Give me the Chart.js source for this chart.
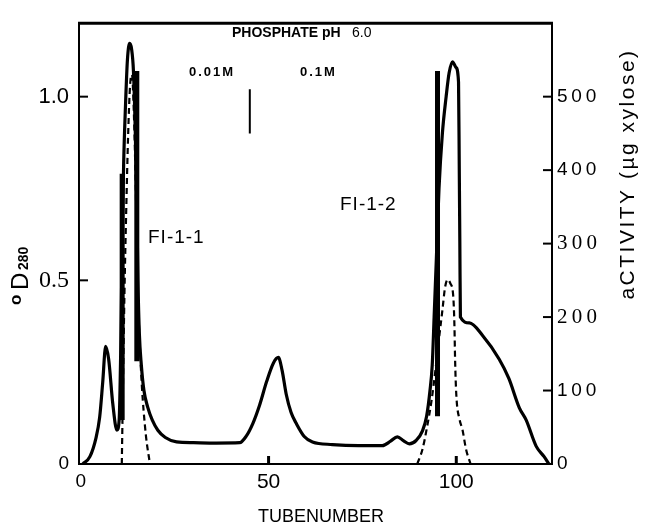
<!DOCTYPE html>
<html>
<head>
<meta charset="utf-8">
<script src="https://cdn.jsdelivr.net/npm/chart.js@4/dist/chart.umd.min.js"></script>
<style>
html,body{margin:0;padding:0;background:#fff;}
#wrap{width:645px;height:526px;}
</style>
</head>
<body>
<div id="wrap"><canvas id="c" width="645" height="526"></canvas></div>
<script>
// ---- data ----
const odTubes = [0.5,2.4,4.0,5.0,5.8,6.6,7.4,8.5,9.6,10.2,10.6,11.0,11.4,11.9,12.4,13.0,13.5,14.0,14.5,14.9,15.2,15.6,16.1,16.8,17.8,19.0,20.5,22.5,25.5,30,36,42.3,44,45.8,47.6,49.5,51.3,52.6,53.6,54.7,56,57.4,59.5,61.7,67,74,80.3,82.5,84.3,86,87.5,89.3,91,92.1,93,93.6,94.1,94.7,95.4,96.3,97.3,98.1,99.0,99.9,100.6,100.8,100.95,101.1,103.5,107,111.4,114,116.8,118.6,121.3,123.4,124.7];
const odValues = [0,0.02,0.07,0.127,0.22,0.32,0.285,0.164,0.092,0.12,0.3,0.6,0.82,0.98,1.1,1.145,1.13,1.07,0.9,0.7,0.5,0.35,0.27,0.2,0.155,0.12,0.092,0.072,0.06,0.058,0.057,0.058,0.075,0.11,0.16,0.225,0.275,0.29,0.255,0.19,0.14,0.11,0.075,0.06,0.053,0.05,0.05,0.062,0.074,0.063,0.055,0.064,0.09,0.13,0.2,0.27,0.4,0.56,0.75,0.9,1.0,1.065,1.095,1.08,1.04,0.8,0.6,0.4,0.384,0.35,0.286,0.233,0.153,0.12,0.048,0.02,0];

const actPeak1Tubes = [10.9,11.2,11.6,12.1,12.6,13.1,13.6,14.1,14.6,15.1,15.6,16.2,17.3,18.4];
const actPeak1Values = [0,100,230,350,450,515,530,480,380,240,175,110,40,0];
const actPeak2Tubes = [89.6,91.0,92.2,93.4,94.5,95.5,96.3,97.0,97.7,98.4,99.2,99.5,99.7,100.0,100.9,101.6,102.6,103.8];
const actPeak2Values = [0,20,50,86,130,175,209,240,251,246,228,190,139,95,60,48,20,0];

// thick vertical bars drawn on the original record (tube, OD low, OD high)
const barTubes = [11.0, 14.9, 95.0];
const barLow = [0.12, 0.28, 0.13];
const barHigh = [0.79, 1.07, 1.07];
// buffer change marker (0.01M -> 0.1M)
const bufferChangeTube = 45;
const bufferMarkRange = [0.9, 1.02];

const xTicks = [0, 50, 100];
const odTicks = [0, 0.5, 1.0];
const actTicks = [0, 100, 200, 300, 400, 500];

// ---- build datasets ----
const pts = (xs, ys) => xs.map((x, i) => ({x: x, y: ys[i]}));
const datasets = [];
datasets.push({data: pts(odTubes, odValues), yAxisID: 'y', borderColor: '#000', borderWidth: 3.2,
  pointRadius: 0, fill: false, cubicInterpolationMode: 'monotone'});
datasets.push({data: pts(actPeak1Tubes, actPeak1Values), yAxisID: 'y2', borderColor: '#000', borderWidth: 2.2,
  borderDash: [6, 4], pointRadius: 0, fill: false, cubicInterpolationMode: 'monotone'});
datasets.push({data: pts(actPeak2Tubes, actPeak2Values), yAxisID: 'y2', borderColor: '#000', borderWidth: 2.2,
  borderDash: [6, 4], pointRadius: 0, fill: false, cubicInterpolationMode: 'monotone'});
barTubes.forEach((t, i) => {
  datasets.push({data: [{x: t, y: barLow[i]}, {x: t, y: barHigh[i]}], yAxisID: 'y', borderColor: '#000',
    borderWidth: 5, pointRadius: 0, fill: false, borderCapStyle: 'butt'});
});
datasets.push({data: [{x: bufferChangeTube, y: bufferMarkRange[0]}, {x: bufferChangeTube, y: bufferMarkRange[1]}],
  yAxisID: 'y', borderColor: '#000', borderWidth: 2, pointRadius: 0, fill: false});

const SANS = 'Liberation Sans';
const SERIF = 'Liberation Serif';

const decor = {
  id: 'decor',
  afterDraw(chart) {
    const ctx = chart.ctx;
    const a = chart.chartArea;
    const sx = chart.scales.x, sy = chart.scales.y, sy2 = chart.scales.y2;
    ctx.save();
    ctx.strokeStyle = '#000';
    ctx.fillStyle = '#000';
    // top frame line
    ctx.lineWidth = 3;
    ctx.beginPath(); ctx.moveTo(a.left - 1, a.top); ctx.lineTo(a.right + 1, a.top); ctx.stroke();
    // inward tick marks
    ctx.lineWidth = 2;
    odTicks.forEach(v => { if (v === 0) return; const y = sy.getPixelForValue(v);
      ctx.beginPath(); ctx.moveTo(a.left, y); ctx.lineTo(a.left + 9, y); ctx.stroke(); });
    actTicks.forEach(v => { if (v === 0) return; const y = sy2.getPixelForValue(v);
      ctx.beginPath(); ctx.moveTo(a.right, y); ctx.lineTo(a.right - 9, y); ctx.stroke(); });
    ctx.lineWidth = 3;
    xTicks.forEach(v => { if (v === 0) return; const x = sx.getPixelForValue(v);
      ctx.beginPath(); ctx.moveTo(x, a.bottom); ctx.lineTo(x, a.bottom - 8); ctx.stroke(); });

    // annotations
    ctx.textBaseline = 'middle';
    ctx.textAlign = 'left';
    ctx.font = 'bold 14px ' + SANS;
    ctx.fillText('PHOSPHATE pH', 232, 33);
    ctx.font = '14px ' + SANS;
    ctx.fillText('6.0', 352, 33);
    ctx.font = 'bold 13px ' + SANS;
    ctx.letterSpacing = '2px';
    ctx.fillText('0.01M', 189, 72);
    ctx.fillText('0.1M', 300, 72);
    ctx.font = '19px ' + SANS;
    ctx.letterSpacing = '1px';
    ctx.fillText('FI-1-1', 148, 238);
    ctx.fillText('FI-1-2', 340, 205);
    ctx.letterSpacing = '0px';

    // bottom title
    ctx.textAlign = 'center';
    ctx.font = '18px ' + SANS;
    ctx.fillText('TUBENUMBER', 321, 517);

    // right title (rotated)
    ctx.save();
    ctx.translate(628, 174);
    ctx.rotate(-Math.PI / 2);
    ctx.textAlign = 'center';
    ctx.textBaseline = 'middle';
    ctx.font = '21px ' + SANS;
    ctx.letterSpacing = '2.5px';
    ctx.fillText('aCTIVITY (\u00b5g xylose)', 0, 0);
    ctx.restore();

    // left title OD280 (rotated)
    ctx.save();
    ctx.rotate(-Math.PI / 2);
    ctx.textAlign = 'left';
    ctx.textBaseline = 'alphabetic';
    ctx.font = 'bold 17px ' + SANS;
    ctx.fillText('o', -305, 21);
    ctx.font = '24px ' + SANS;
    ctx.fillText('D', -290, 28);
    ctx.font = 'bold 14px ' + SANS;
    ctx.fillText('280', -270, 28);
    ctx.restore();

    ctx.restore();
  }
};

new Chart(document.getElementById('c'), {
  type: 'line',
  data: {datasets: datasets},
  plugins: [decor],
  options: {
    responsive: false,
    animation: false,
    events: [],
    layout: {padding: {top: 12, left: 0, right: 0, bottom: 0}},
    plugins: {legend: {display: false}, tooltip: {enabled: false}},
    scales: {
      x: {
        type: 'linear', min: -0.5, max: 125.5,
        afterFit: s => { s.height = 62; },
        afterBuildTicks: s => { s.ticks = xTicks.map(v => ({value: v})); },
        grid: {display: false, drawTicks: false},
        border: {display: true, width: 2, color: '#000'},
        ticks: {padding: 6, color: '#000', maxRotation: 0, autoSkip: false,
          font: ctx => ({family: SANS, size: ctx.tick && ctx.tick.value === 0 ? 19 : 21}),
          callback: v => String(v)}
      },
      y: {
        type: 'linear', position: 'left', min: 0, max: 1.2,
        afterFit: s => { s.width = 79; },
        afterBuildTicks: s => { s.ticks = odTicks.map(v => ({value: v})); },
        grid: {display: false, drawTicks: false},
        border: {display: true, width: 2, color: '#000'},
        ticks: {padding: 10, color: '#000',
          font: ctx => {
            const v = ctx.tick ? ctx.tick.value : 0;
            if (v === 0.5) return {family: SERIF, size: 24};
            if (v === 0) return {family: SANS, size: 19};
            return {family: SANS, size: 22};
          },
          callback: v => (v === 0 ? '0' : v.toFixed(1))}
      },
      y2: {
        type: 'linear', position: 'right', min: 0, max: 600,
        afterFit: s => { s.width = 93; },
        afterBuildTicks: s => { s.ticks = actTicks.map(v => ({value: v})); },
        grid: {display: false, drawTicks: false},
        border: {display: true, width: 2, color: '#000'},
        ticks: {padding: 5, color: '#000',
          font: ctx => {
            const v = ctx.tick ? ctx.tick.value : 0;
            if (v === 300 || v === 200) return {family: SERIF, size: 21};
            return {family: SANS, size: 19};
          },
          callback: v => String(v).split('').join('\u2009')}
      }
    }
  }
});
</script>
</body>
</html>
